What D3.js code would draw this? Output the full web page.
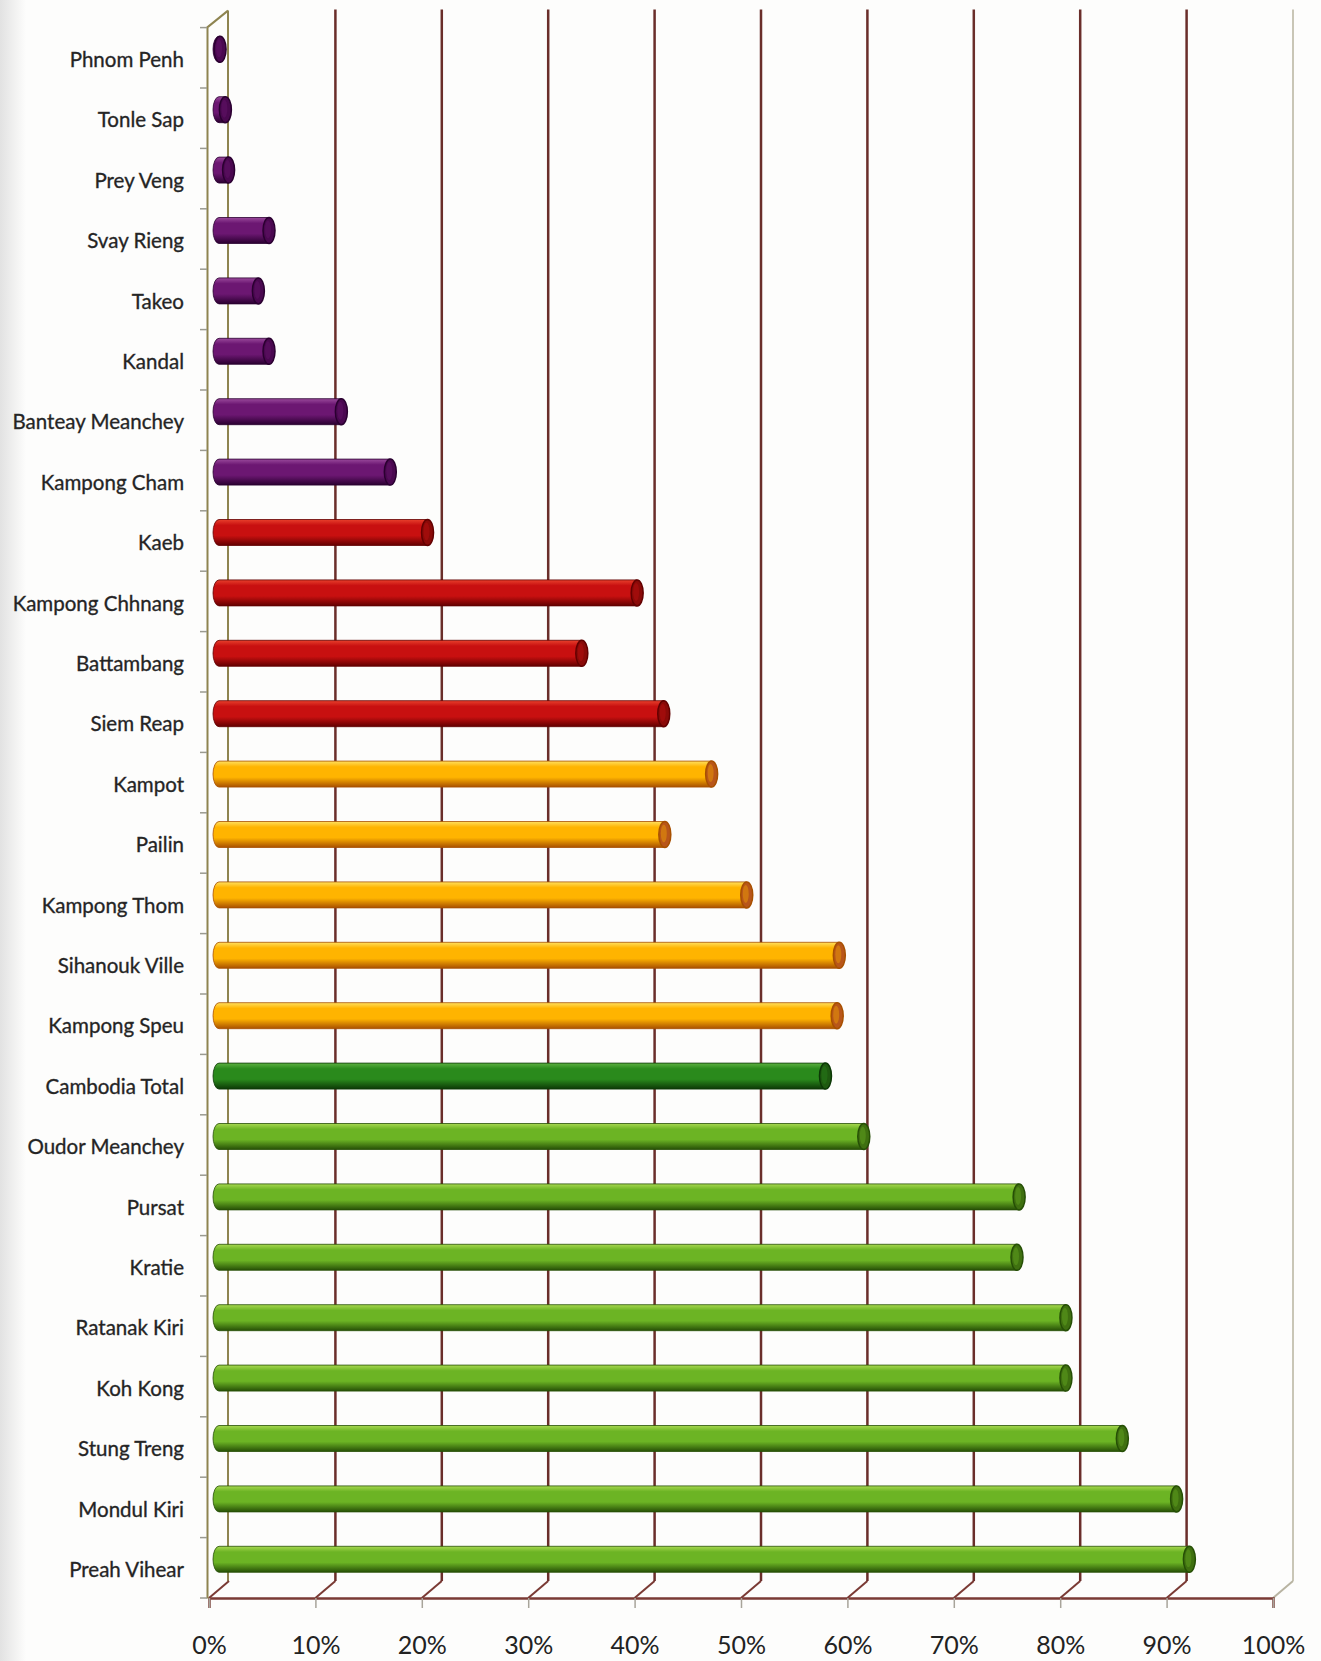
<!DOCTYPE html>
<html>
<head>
<meta charset="utf-8">
<script src="https://cdn.jsdelivr.net/npm/d3@7"></script>
<style>
  html, body { margin: 0; padding: 0; background: #fdfdfc; }
  svg { display: block; }
</style>
</head>
<body>
<svg id="chart" width="1321" height="1661"></svg>
<script>
// data
var categories = ["Phnom Penh", "Tonle Sap", "Prey Veng", "Svay Rieng", "Takeo", "Kandal",
  "Banteay Meanchey", "Kampong Cham", "Kaeb", "Kampong Chhnang", "Battambang", "Siem Reap",
  "Kampot", "Pailin", "Kampong Thom", "Sihanouk Ville", "Kampong Speu", "Cambodia Total",
  "Oudor Meanchey", "Pursat", "Kratie", "Ratanak Kiri", "Koh Kong", "Stung Treng",
  "Mondul Kiri", "Preah Vihear"];
var values = [0.1, 0.6, 0.9, 4.7, 3.7, 4.7, 11.5, 16.1, 19.6, 39.3, 34.1, 41.8,
  46.3, 41.9, 49.6, 58.3, 58.1, 57.0, 60.6, 75.2, 75.0, 79.6, 79.6, 84.9, 90.0, 91.2];
var groups = ["purple", "purple", "purple", "purple", "purple", "purple", "purple", "purple",
  "red", "red", "red", "red", "orange", "orange", "orange", "orange", "orange",
  "dkgreen", "green", "green", "green", "green", "green", "green", "green", "green"];
var tickValues = [0, 10, 20, 30, 40, 50, 60, 70, 80, 90, 100];

// colours: light / base / dark / cap
var palette = {
  purple:  ["#9a4a9c", "#6c1772", "#2a0030", "#4a0850"],
  red:     ["#e8402c", "#c81010", "#620000", "#8a0a08"],
  orange:  ["#ffe060", "#ffb400", "#a85000", "#b8561a"],
  dkgreen: ["#5cb040", "#2a8a1c", "#0c3806", "#1e5a10"],
  green:   ["#a8d850", "#6cb424", "#264f06", "#3f7010"]
};

var svg = d3.select("#chart");
var W = 1321, H = 1661;
var depthX = 20, depthY = -17;
var floorY = 1598, topY = 27.6;

var x = d3.scaleLinear().domain([0, 100]).range([209, 1273]);
var y = d3.scaleBand().domain(categories).range([topY, floorY]).padding(0);

var defs = svg.append("defs");

// faint scan shadow on the left edge
var shade = defs.append("linearGradient").attr("id", "shade").attr("x1", 0).attr("x2", 1);
shade.append("stop").attr("offset", 0).attr("stop-color", "#e2e2e2");
shade.append("stop").attr("offset", 1).attr("stop-color", "#fdfdfc");
svg.append("rect").attr("x", 0).attr("y", 0).attr("width", 26).attr("height", H).attr("fill", "url(#shade)");

Object.keys(palette).forEach(function(k) {
  var c = palette[k];
  var g = defs.append("linearGradient").attr("id", "cyl-" + k)
    .attr("x1", 0).attr("y1", 0).attr("x2", 0).attr("y2", 1);
  g.append("stop").attr("offset", "0%").attr("stop-color", c[0]);
  g.append("stop").attr("offset", "22%").attr("stop-color", c[1]);
  g.append("stop").attr("offset", "62%").attr("stop-color", c[1]);
  g.append("stop").attr("offset", "100%").attr("stop-color", c[2]);
});

// back wall grid lines
var grid = svg.append("g").attr("id", "grid");
grid.selectAll("line.grid").data(tickValues.slice(1, 10)).enter().append("line")
  .attr("x1", function(d) { return x(d) + depthX; })
  .attr("x2", function(d) { return x(d) + depthX; })
  .attr("y1", topY + depthY - 1)
  .attr("y2", floorY + depthY)
  .attr("stroke", "#6a2e2a").attr("stroke-width", 2.5);

// right wall edge and left back edge
grid.append("line")
  .attr("x1", x(100) + depthX).attr("x2", x(100) + depthX)
  .attr("y1", topY + depthY - 1).attr("y2", floorY + depthY)
  .attr("stroke", "#c9c6b6").attr("stroke-width", 2);
grid.append("line")
  .attr("x1", x(0) + depthX - 1).attr("x2", x(0) + depthX - 1)
  .attr("y1", topY + depthY).attr("y2", floorY + depthY)
  .attr("stroke", "#8e8450").attr("stroke-width", 2);

// floor diagonals
grid.selectAll("line.floor").data(tickValues).enter().append("line")
  .attr("x1", function(d) { return x(d); })
  .attr("y1", floorY)
  .attr("x2", function(d) { return x(d) + depthX; })
  .attr("y2", floorY + depthY)
  .attr("stroke", function(d) { return d === 100 ? "#b8b4a2" : "#7a3a34"; })
  .attr("stroke-width", 2);

// top-left diagonal
grid.append("line")
  .attr("x1", x(0) - 2).attr("y1", topY)
  .attr("x2", x(0) + depthX - 1).attr("y2", topY + depthY)
  .attr("stroke", "#8e8450").attr("stroke-width", 2);

// x axis along the front of the floor
var xAxis = d3.axisBottom(x)
  .tickValues(tickValues)
  .tickFormat(function(d) { return d + "%"; })
  .tickSize(10)
  .tickPadding(28);
var gx = svg.append("g").attr("transform", "translate(0," + floorY + ")").call(xAxis);
gx.select(".domain").attr("stroke", "#7a3a34").attr("stroke-width", 2.5);
gx.selectAll(".tick line").attr("stroke", "#a8a49a").attr("stroke-width", 1.5);
gx.selectAll(".tick text")
  .attr("fill", "#222").style("font-family", "Lato, 'Open Sans', sans-serif").style("font-size", "25px");

// y axis with category labels
var yAxis = d3.axisLeft(y).tickSize(0).tickPadding(23);
var gy = svg.append("g").attr("transform", "translate(" + (x(0) - 2) + ",0)").call(yAxis);
gy.select(".domain").attr("stroke", "#8e8450").attr("stroke-width", 2);
gy.selectAll(".tick text")
  .attr("dy", "0.45em")
  .attr("fill", "#222").attr("stroke", "#333").attr("stroke-width", 0.35)
  .style("font-family", "Lato, 'Open Sans', sans-serif").style("font-size", "20.5px");

// tick marks between categories
gy.selectAll("line.sep").data(d3.range(categories.length + 1)).enter().append("line")
  .attr("x1", -7).attr("x2", 0)
  .attr("y1", function(i) { return topY + i * y.step(); })
  .attr("y2", function(i) { return topY + i * y.step(); })
  .attr("stroke", "#9a9a90").attr("stroke-width", 1.5);

// cylinders
var barH = 26, rx = 6, ry = barH / 2;
var bars = svg.append("g").attr("id", "bars");
categories.forEach(function(cat, i) {
  var cy = y(cat) + y.bandwidth() / 2 + depthY / 2;
  var x0 = x(0) + depthX / 2;
  var x1 = x(values[i]) + depthX / 2;
  var t = cy - ry, b = cy + ry;
  var c = palette[groups[i]];
  var g = bars.append("g");
  if (x1 - x0 > 1) {
    g.append("path")
      .attr("d", "M" + x0 + "," + t + " L" + x1 + "," + t +
        " L" + x1 + "," + b + " L" + x0 + "," + b +
        " A" + rx + "," + ry + " 0 0 1 " + x0 + "," + t + " Z")
      .attr("fill", "url(#cyl-" + groups[i] + ")")
      .attr("stroke", c[2]).attr("stroke-width", 0.8);
  }
  g.append("ellipse")
    .attr("cx", x1).attr("cy", cy).attr("rx", rx).attr("ry", ry)
    .attr("fill", c[3]).attr("stroke", c[2]).attr("stroke-width", 1.5);
  g.append("ellipse")
    .attr("cx", x1 - 1).attr("cy", cy - 1).attr("rx", rx - 3).attr("ry", ry - 4)
    .attr("fill", c[1]).attr("opacity", 0.35);
});
</script>
</body>
</html>
